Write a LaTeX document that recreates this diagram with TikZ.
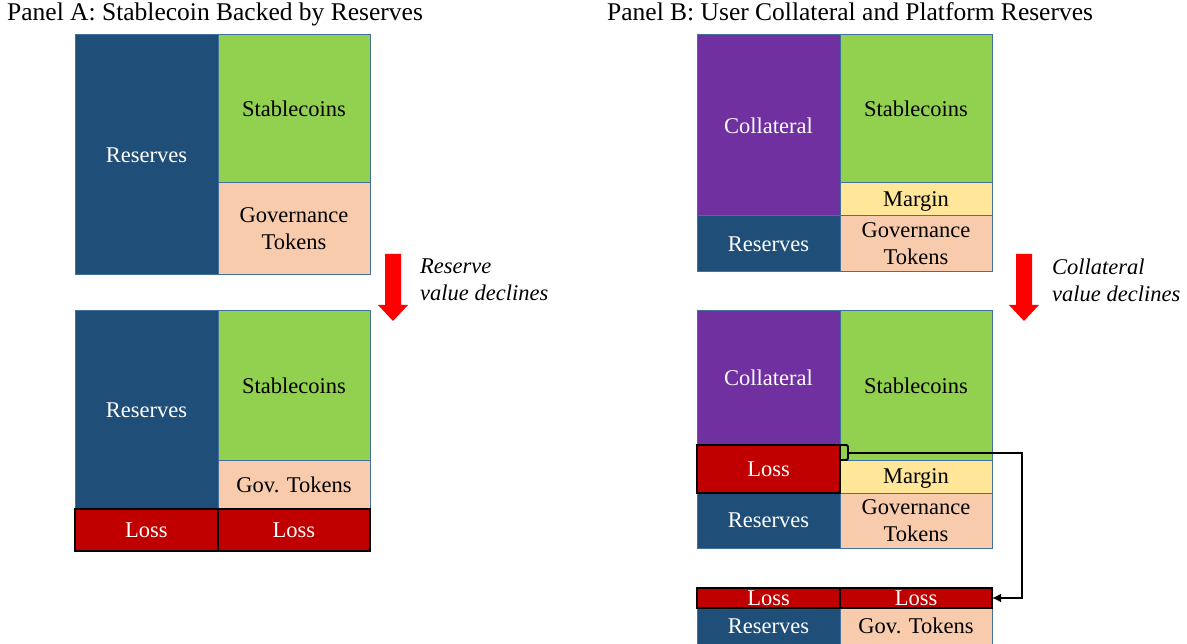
\documentclass[tikz,border=0pt]{standalone}
\usepackage{fontspec}
\setmainfont{Liberation Serif}
\usepackage{tikz}
\usetikzlibrary{arrows.meta, positioning, calc}
\definecolor{resblue}{RGB}{31, 78, 121}
\definecolor{stabgreen}{RGB}{146, 208, 80}
\definecolor{govpeach}{RGB}{248, 203, 173}
\definecolor{collpurple}{RGB}{112, 48, 160}
\definecolor{margyellow}{RGB}{255, 230, 153}
\definecolor{lossred}{RGB}{192, 0, 0}
\definecolor{edgeblue}{RGB}{65, 113, 156}
\definecolor{arrowred}{RGB}{255, 0, 0}
\newcommand{\boxfont}{\fontsize{22.5}{27}\selectfont}
\newcommand{\titlefont}{\fontsize{25.5}{30}\selectfont}

\begin{document}
\begin{tikzpicture}[x=1pt, y=-1pt,
    blk/.style={draw=edgeblue, line width=1pt, anchor=north west, inner sep=0pt, outer sep=0pt, text depth=-3pt, align=center, font=\boxfont},
    sz/.style 2 args={minimum width=#1pt, minimum height=#2pt},
    resv/.style={blk, fill=resblue, text=white},
    coll/.style={blk, fill=collpurple, text=white},
    stab/.style={blk, fill=stabgreen},
    gov/.style={blk, fill=govpeach},
    marg/.style={blk, fill=margyellow},
    loss/.style={blk, draw=black, line width=1.4pt, fill=lossred, text=white},
    note/.style={anchor=west, inner sep=0pt, align=left, font=\boxfont\itshape},
    ttl/.style={anchor=base west, inner sep=0pt, font=\titlefont}
]
    \useasboundingbox (0,0) rectangle (1187,644);

    % Titles
    \node[ttl] (ttlA) at (7,21) {Panel A: Stablecoin Backed by Reserves};
    \node[ttl] (ttlB) at (607,21) {Panel B: User Collateral and Platform Reserves};

    % Panel A, before
    \node[resv, sz={143}{240}] (resA1) at (75,35) {Reserves};
    \node[stab, sz={152}{148}] (stabA1) at (218,35) {Stablecoins};
    \node[gov, sz={152}{92}] (govA1) at (218,183) {Governance\\Tokens};

    % Panel A, after
    \node[resv, sz={143}{198}] (resA2) at (75,311) {Reserves};
    \node[stab, sz={152}{149}] (stabA2) at (218,311) {Stablecoins};
    \node[gov, sz={152}{49}] (govA2) at (218,460) {Gov. Tokens};
    \node[loss, sz={143}{42}] (lossA2l) at (75,509) {Loss};
    \node[loss, sz={152}{42}] (lossA2r) at (218,509) {Loss};

    % Decline arrow A
    \fill[arrowred] (385,254) -- (401,254) -- (401,305) -- (408,305) -- (393,321) -- (378,305) -- (385,305) -- cycle;
    \node[note] (noteA) at (420,280) {Reserve\\value declines};

    % Panel B, before
    \node[coll, sz={143}{181}] (colB1) at (697,35) {Collateral};
    \node[resv, sz={143}{56}] (resB1) at (697,216) {Reserves};
    \node[stab, sz={152}{148}] (stabB1) at (840,35) {Stablecoins};
    \node[marg, sz={152}{33}] (marB1) at (840,183) {Margin};
    \node[gov, sz={152}{56}] (govB1) at (840,216) {Governance\\Tokens};

    % Decline arrow B
    \fill[arrowred] (1016,254) -- (1032,254) -- (1032,305) -- (1039,305) -- (1024,321) -- (1009,305) -- (1016,305) -- cycle;
    \node[note] (noteB) at (1052,280) {Collateral\\value declines};

    % Panel B, after
    \node[coll, sz={143}{134}] (colB2) at (697,311) {Collateral};
    \node[resv, sz={143}{55}] (resB2) at (697,493) {Reserves};
    \node[stab, sz={152}{149}] (stabB2) at (840,311) {Stablecoins};
    \node[marg, sz={152}{33}] (marB2) at (840,460) {Margin};
    \node[gov, sz={152}{55}] (govB2) at (840,493) {Governance\\Tokens};
    \node[loss, sz={143}{48}] (lossB2) at (697,445) {Loss};

    % Panel B, losses passed on
    \node[resv, sz={143}{36}] (resB3) at (697,608) {Reserves};
    \node[gov, sz={152}{36}] (govB3) at (840,608) {Gov. Tokens};
    \node[loss, sz={143}{20}] (lossB3l) at (697,588) {Loss};
    \node[loss, sz={152}{20}] (lossB3r) at (840,588) {Loss};

    % Bracket and connector
    \draw[line width=1.8pt, rounded corners=1.5pt] (lossB2.north east) -- ++(8,0) |- (stabB2.south -| lossB2.east);
    \coordinate (brk) at ($(lossB2.north east)+(8,8)$);
    \draw[line width=1.8pt, -{Latex[length=9pt, width=9pt]}] (brk) -| ($(lossB3r.east)+(30,0)$) -- (lossB3r.east);

\end{tikzpicture}
\end{document}
